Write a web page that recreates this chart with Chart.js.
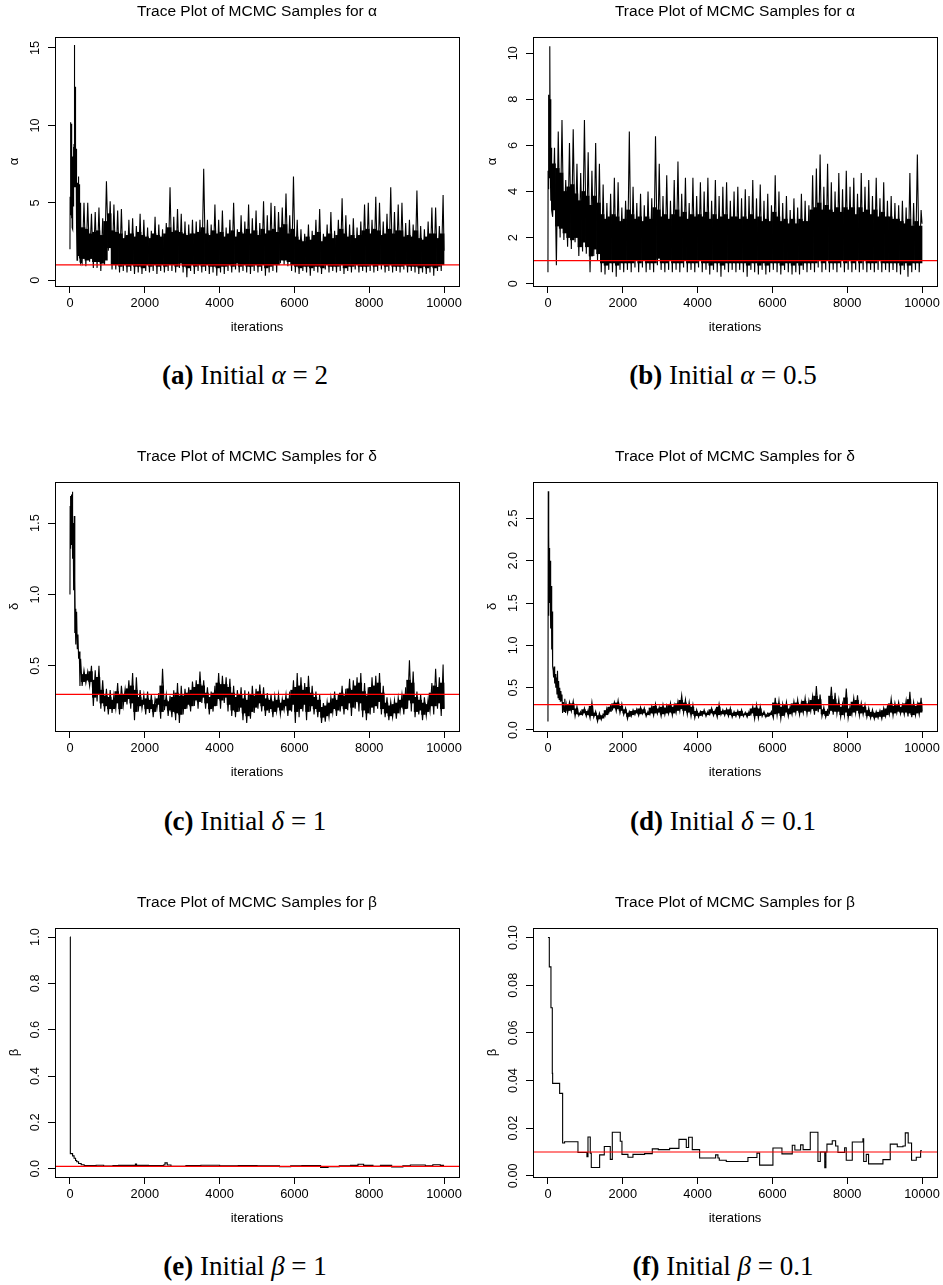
<!DOCTYPE html>
<html>
<head>
<meta charset="utf-8">
<script src="https://cdn.jsdelivr.net/npm/chart.js@4/dist/chart.umd.min.js"></script>
<style>
html,body{margin:0;padding:0;background:#fff;overflow:hidden;}
#fig{position:relative;width:943px;height:1285px;overflow:hidden;background:#fff;}
canvas{position:absolute;display:block;}
.cap{position:absolute;font-family:"Liberation Serif","Times New Roman",serif;font-size:27px;line-height:27px;color:#000;white-space:nowrap;transform:translateX(-50%);}
.cap b{font-weight:bold;}
.cap i{font-style:italic;}
</style>
</head>
<body>
<div id="fig">
  <canvas id="cA" width="465" height="336" style="left:0px;top:0px"></canvas>
  <canvas id="cB" width="465" height="336" style="left:478px;top:0px"></canvas>
  <canvas id="cC" width="465" height="336" style="left:0px;top:445px"></canvas>
  <canvas id="cD" width="465" height="336" style="left:478px;top:445px"></canvas>
  <canvas id="cE" width="465" height="336" style="left:0px;top:891px"></canvas>
  <canvas id="cF" width="465" height="336" style="left:478px;top:891px"></canvas>
  <div class="cap" style="left:245px;top:362px"><b>(a)</b> Initial <i>α</i> = 2</div>
  <div class="cap" style="left:723px;top:362px"><b>(b)</b> Initial <i>α</i> = 0.5</div>
  <div class="cap" style="left:245px;top:808px"><b>(c)</b> Initial <i>δ</i> = 1</div>
  <div class="cap" style="left:723px;top:808px"><b>(d)</b> Initial <i>δ</i> = 0.1</div>
  <div class="cap" style="left:245px;top:1253px"><b>(e)</b> Initial <i>β</i> = 1</div>
  <div class="cap" style="left:723px;top:1253px"><b>(f)</b> Initial <i>β</i> = 0.1</div>
</div>
<script>
// ---------- shared axis data ----------
const X_MIN = -400, X_MAX = 10400;
const xTicks = [0, 2000, 4000, 6000, 8000, 10000];
const xTickLabels = ['0', '2000', '4000', '6000', '8000', '10000'];
const BIN = 100; // iterations per bin (extremes lo/hi, dense body bodyLo/bodyHi)

// ---------- (a) alpha, initial 2 ----------
const aBurnIter = [0,4,9,14,18,23,27,32,36,41,45,50,54,59,63,68,72,77,81,86,90,95,99,104,108,113,117,122,126,131,135,140,144,149,153,158,162,167,171,176,180,185,189,194,198,203,207,212,216,221,225,230,234,239,243,248,252,257,261,266,270,275,279,284,288,293,297];
const aBurnVal  = [2.0,5.4,9.8,4.2,8.8,5.0,10.2,6.0,9.2,4.0,10.1,5.5,8.3,3.4,7.9,3.3,7.6,4.5,8.0,4.8,8.6,5.0,7.0,5.5,8.8,6.0,14.2,7.5,15.2,8.0,12.0,6.5,12.5,7.0,11.0,6.0,8.4,5.0,8.5,4.0,6.0,3.5,1.3,5.0,1.5,6.3,2.2,5.8,1.6,6.0,2.5,5.5,1.8,6.7,2.0,6.2,1.9,5.0,1.4,4.6,1.2,4.3,1.5,4.8,1.1,5.0,1.3];
const aBinStart = 300;
const aLo = [1.1,0.9,1.2,0.8,0.8,0.6,1.0,1.9,0.7,0.7, 0.5,0.6,0.5,0.6,0.4,0.5,0.4,0.6,0.5,0.6, 0.4,0.6,0.5,0.6,0.6,0.5,0.8,0.5,0.2,0.6, 0.4,0.6,0.5,0.6,0.4,0.5,0.3,0.5,0.4,0.6, 0.5,0.7,0.5,0.6,0.5,0.4,0.6,0.5,0.6,0.3, 0.5,0.6,0.5,1.1,1.0,0.9,0.6,0.5,0.4,0.6, 0.5,0.3,0.6,0.5,0.4,0.7,0.5,0.6,0.5,0.6, 0.4,0.6,0.5,0.7,0.5,0.6,0.5,0.6,0.5,0.6, 0.7,0.5,0.6,0.5,0.6,0.5,0.7,0.5,0.6,0.5, 0.4,0.5,0.4,0.5,0.3,0.6,0.6];
const aHi = [5.0,5.0,4.3,4.4,4.7,4.0,6.4,5.1,4.9,4.5, 4.6,3.2,3.9,4.0,3.5,4.3,3.9,3.4,3.2,4.1, 3.6,3.3,3.7,6.0,4.1,4.6,4.3,3.8,3.6,3.9, 3.8,3.9,7.2,3.9,3.6,4.9,3.9,4.5,3.4,3.9, 5.0,3.3,4.2,3.8,4.9,4.0,4.5,3.7,5.1,4.2, 5.0,4.8,4.4,4.7,5.6,4.2,6.7,3.9,3.3,3.0, 3.6,3.2,3.9,4.6,3.0,3.6,4.4,3.2,3.9,5.3, 4.2,3.6,4.0,3.4,3.8,4.9,5.0,3.9,5.4,5.0, 3.8,4.3,6.0,4.4,4.9,5.0,3.7,3.9,3.6,5.8, 3.5,3.3,3.8,4.7,4.7,3.5,5.5];
const aBodyLo = [1.4,1.3,1.4,1.2,1.2,1.1,1.3,2.1,1.0,1.0, 0.9,1.0,0.9,1.0,0.9,0.9,0.8,1.0,0.9,1.0, 0.9,1.0,0.9,1.0,1.0,0.9,1.1,0.9,0.8,1.0, 0.9,1.0,0.9,1.0,0.9,0.9,0.8,0.9,0.9,1.0, 0.9,1.1,0.9,1.0,0.9,0.9,1.0,0.9,1.0,0.8, 0.9,1.0,1.0,1.3,1.3,1.2,1.0,0.9,0.8,0.9, 0.9,0.8,0.9,0.9,0.8,1.0,0.9,0.9,0.9,1.0, 0.8,0.9,0.9,1.0,0.9,0.9,0.9,1.0,0.9,1.0, 1.0,0.9,1.0,0.9,0.9,0.9,1.0,0.9,0.9,0.9, 0.8,0.9,0.8,0.9,0.8,0.9,1.0];
const aBodyHi = [3.4,3.3,3.0,3.1,3.2,2.9,3.8,4.3,3.2,3.1, 3.0,2.7,2.9,3.0,2.8,3.1,2.9,2.8,2.7,3.0, 2.9,2.8,3.0,3.4,3.1,3.2,3.1,3.0,2.9,3.0, 3.0,3.1,3.4,3.0,2.9,3.2,3.0,3.1,2.8,3.0, 3.2,2.8,3.1,3.0,3.3,3.0,3.2,2.9,3.3,3.0, 3.2,3.3,3.1,3.4,3.6,3.0,3.3,2.8,2.6,2.5, 2.8,2.6,2.9,3.1,2.5,2.8,3.0,2.7,2.9,3.3, 3.0,2.8,2.9,2.7,2.9,3.2,3.3,3.0,3.3,3.2, 2.9,3.0,3.3,3.0,3.2,3.2,2.8,2.9,2.8,3.2, 2.7,2.6,2.8,3.0,3.0,2.7,3.0];
const aTail = [10000, 1.9];
const aYTicks = [0, 5, 10, 15];
const aYLabels = ['0', '5', '10', '15'];
const aTrue = 1;

// ---------- (b) alpha, initial 0.5 ----------
const bBurnIter = [0,3,9,18,27,36,45,53,62,71,80,89,98];
const bBurnVal  = [0.5,4.9,4.1,5.0,8.2,4.6,7.8,10.3,5.0,8.0,3.6,5.9,3.2];
const bBinStart = 100;
const bLo = [2.9,0.8,2.0,1.9,1.6,1.5,1.8,1.2,1.4,1.3, 0.5,1.2,1.0,0.5,0.4,0.6,0.5,0.3,0.6,0.5, 0.6,0.5,0.7,0.5,0.7,0.5,0.6,0.5,0.8,0.6, 0.5,0.6,0.5,0.6,0.5,0.7,0.5,0.6,0.5,0.7, 0.5,0.6,0.4,0.6,0.5,0.3,0.6,0.5,0.6,0.5, 0.6,0.5,0.3,0.6,0.5,0.4,0.6,0.4,0.5,0.6, 0.5,0.4,0.6,0.5,0.4,0.5,0.4,0.6,0.5,0.6, 0.5,0.7,0.5,0.6,0.5,0.6,0.5,0.7,0.5,0.6, 0.5,0.6,0.5,0.6,0.5,0.6,0.5,0.6,0.5,0.6, 0.5,0.6,0.5,0.4,0.6,0.3,0.5,0.6,0.5];
const bHi = [5.9,6.6,7.1,4.5,6.1,6.7,5.2,4.8,7.1,5.7, 4.9,6.1,5.2,4.3,3.5,3.9,4.6,4.4,3.3,3.6, 6.6,4.2,3.5,3.9,3.4,4.0,3.7,6.4,5.2,3.8, 4.7,3.6,4.5,5.3,3.9,4.6,3.5,4.6,3.8,4.4, 4.0,4.6,3.6,4.5,3.8,4.2,4.4,3.6,4.0,4.2, 3.7,4.1,3.8,4.5,3.7,4.3,3.6,3.9,3.4,4.7, 4.0,3.5,3.8,3.2,3.7,3.3,3.9,3.6,3.4,4.7, 5.0,5.6,4.2,5.2,4.4,4.0,4.8,4.1,4.9,4.2, 4.6,3.9,4.8,4.2,4.5,3.8,4.6,3.7,4.4,3.6, 3.8,3.5,3.4,3.6,3.3,4.8,3.5,5.6,3.2];
const bBodyLo = [3.2,2.5,2.4,2.2,2.0,1.9,2.0,1.6,1.8,1.6, 1.2,1.5,1.3,0.9,0.8,0.9,0.9,0.8,0.9,0.9, 0.9,0.9,1.0,0.9,1.0,0.9,0.9,0.9,1.1,0.9, 0.9,1.0,0.9,0.9,0.9,1.0,0.9,0.9,0.9,1.0, 0.9,0.9,0.8,0.9,0.9,0.8,0.9,0.9,0.9,0.9, 0.9,0.9,0.8,0.9,0.9,0.8,0.9,0.8,0.9,0.9, 0.9,0.8,0.9,0.9,0.8,0.9,0.8,0.9,0.9,0.9, 0.9,1.0,0.9,1.0,0.9,0.9,0.9,1.0,0.9,1.0, 0.9,1.0,0.9,1.0,0.9,0.9,0.9,1.0,0.9,0.9, 0.9,0.9,0.9,0.8,0.9,0.8,0.9,0.9,0.9];
const bBodyHi = [5.2,5.0,4.8,4.0,4.2,4.3,3.9,3.6,4.0,3.8, 3.4,3.8,3.5,3.0,2.8,2.9,3.0,2.9,2.7,2.8, 3.2,3.0,2.8,2.9,2.7,2.9,2.8,3.3,3.2,2.9, 3.0,2.8,3.0,3.2,2.9,3.1,2.8,3.0,2.9,3.0, 2.9,3.1,2.8,3.0,2.8,2.9,3.0,2.8,2.9,2.9, 2.8,2.9,2.8,3.0,2.8,2.9,2.7,2.8,2.7,3.1, 2.9,2.7,2.8,2.6,2.8,2.6,2.8,2.7,2.7,3.2, 3.3,3.5,3.2,3.4,3.2,3.1,3.3,3.1,3.3,3.2, 3.3,3.0,3.3,3.1,3.2,3.0,3.2,2.9,3.1,2.9, 2.9,2.8,2.8,2.7,2.6,2.8,2.5,2.7,2.5];
const bTail = [10000, 2.6];
const bYTicks = [0, 2, 4, 6, 8, 10];
const bYLabels = ['0', '2', '4', '6', '8', '10'];
const bTrue = 1;

// ---------- (c) delta, initial 1 ----------
const cBurnIter = [0,5,10,15,20,25,30,35,40,45,50,55,60,65,70,75,80,85,89,98,107,116,125,134,142,151,160,178,196,214,231,249,267,285];
const cBurnVal  = [1.0,1.62,1.32,1.66,1.38,1.69,1.35,1.6,1.42,1.7,1.36,1.65,1.4,1.72,1.3,1.58,1.25,1.5,1.03,1.5,1.15,1.55,0.73,1.1,0.8,0.9,0.65,0.88,0.62,0.72,0.55,0.6,0.36,0.55];
const cBinStart = 300;
const cLo = [.36,.38,.36,.22,.25,.20,.18,.16,.17,.20, .16,.22,.23,.20,.12,.18,.20,.16,.17,.14, .20,.13,.19,.15,.14,.12,.10,.16,.20,.18, .22,.20,.24,.20,.16,.18,.22,.20,.24,.18, .15,.14,.18,.12,.10,.13,.17,.20,.18,.15, .17,.14,.18,.16,.19,.15,.18,.10,.14,.18, .12,.18,.16,.14,.10,.11,.14,.17,.15,.18, .16,.19,.15,.20,.18,.14,.12,.16,.17,.20, .16,.14,.12,.14,.13,.18,.16,.20,.18,.14, .16,.12,.15,.18,.16,.20,.15];
const cHi = [.47,.46,.50,.47,.50,.40,.34,.33,.30,.38, .36,.34,.40,.45,.42,.33,.30,.32,.30,.27, .31,.48,.30,.29,.33,.38,.36,.34,.35,.39, .40,.46,.40,.35,.32,.36,.45,.43,.42,.41, .36,.33,.35,.33,.32,.36,.34,.37,.35,.31, .30,.29,.30,.27,.30,.32,.40,.45,.42,.38, .43,.36,.32,.30,.24,.25,.28,.32,.30,.36, .34,.41,.40,.42,.45,.38,.35,.42,.43,.45, .36,.28,.25,.26,.28,.30,.35,.54,.46,.32, .30,.28,.27,.38,.48,.42,.51];
const cBodyLo = [.39,.40,.39,.28,.30,.24,.22,.20,.20,.24, .20,.25,.27,.24,.18,.22,.23,.20,.20,.18, .23,.18,.22,.19,.18,.17,.16,.20,.23,.22, .26,.25,.28,.24,.20,.22,.27,.26,.28,.23, .19,.18,.21,.17,.15,.18,.21,.24,.22,.19, .20,.18,.21,.19,.22,.19,.23,.18,.20,.23, .18,.22,.20,.18,.14,.15,.17,.20,.19,.22, .20,.24,.21,.25,.24,.19,.17,.21,.22,.25, .20,.17,.15,.17,.17,.21,.20,.26,.24,.18, .19,.16,.18,.22,.22,.24,.20];
const cBodyHi = [.44,.44,.46,.40,.42,.33,.29,.28,.26,.32, .30,.30,.34,.36,.33,.28,.26,.27,.26,.23, .27,.36,.26,.25,.28,.31,.29,.29,.31,.33, .35,.37,.36,.31,.28,.31,.38,.37,.37,.35, .31,.28,.30,.27,.26,.30,.29,.32,.30,.27, .26,.25,.26,.24,.26,.27,.33,.35,.36,.33, .35,.31,.28,.26,.21,.22,.24,.27,.26,.31, .29,.34,.33,.36,.38,.32,.29,.35,.36,.38, .31,.24,.22,.23,.24,.26,.30,.40,.38,.28, .26,.24,.23,.31,.36,.35,.38];
const cTail = [10000, 0.2];
const cYTicks = [0.5, 1.0, 1.5];
const cYLabels = ['0.5', '1.0', '1.5'];
const cTrue = 0.3;

// ---------- (d) delta, initial 0.1 ----------
const dBurnIter = [0,8,16,24,32,40,48,56,64,72,80,90,100,110,120,130,140,150,165,180,195,210,225,240,255,270,285,300,315,330,345,360,375,390,410,430,450,470,490];
const dBurnVal  = [0.1,2.82,1.35,2.3,1.6,2.15,1.5,2.0,1.55,1.7,1.2,1.7,0.95,1.4,0.9,0.75,0.7,0.62,0.75,0.55,0.66,0.5,0.62,0.42,0.7,0.38,0.58,0.36,0.5,0.34,0.46,0.35,0.42,0.2,0.33,0.22,0.37,0.2,0.3];
const dBinStart = 500;
const dLo = [.20,.22,.16,.17,.18,.16,.14,.15,.10,.12, .16,.20,.24,.22,.20,.18,.13,.16,.18,.17, .19,.16,.18,.17,.19,.16,.18,.19,.17,.20, .22,.20,.18,.16,.14,.15,.17,.16,.18,.17, .15,.18,.17,.16,.15,.16,.15,.16,.15,.18, .13,.14,.16,.15,.17,.14,.17,.13,.18,.16, .18,.20,.18,.20,.19,.22,.18,.21,.16,.15, .20,.18,.19,.15,.17,.14,.18,.20,.17,.18, .15,.14,.13,.14,.13,.16,.18,.17,.20,.19, .18,.16,.15,.17,.18];
const dHi = [.33,.34,.28,.22,.26,.24,.33,.22,.20,.19, .26,.29,.33,.35,.31,.26,.22,.24,.25,.27, .26,.22,.28,.31,.27,.30,.29,.32,.30,.34, .41,.36,.33,.30,.24,.22,.24,.22,.26,.24, .31,.24,.25,.26,.22,.23,.24,.21,.22,.28, .30,.28,.22,.20,.22,.38,.35,.31,.33,.28, .34,.36,.33,.38,.35,.40,.52,.42,.27,.24, .51,.44,.36,.31,.49,.28,.38,.41,.32,.30, .26,.24,.22,.23,.26,.28,.37,.32,.33,.30, .35,.45,.33,.31,.38];
const dBodyLo = [.23,.24,.19,.18,.20,.18,.17,.17,.13,.14, .18,.22,.26,.25,.23,.20,.16,.18,.20,.19, .20,.18,.20,.20,.21,.19,.20,.21,.20,.23, .25,.23,.21,.19,.17,.17,.19,.18,.20,.19, .18,.19,.19,.18,.17,.18,.17,.18,.17,.20, .17,.17,.18,.16,.18,.19,.20,.17,.21,.19, .21,.23,.21,.23,.22,.25,.23,.25,.19,.17, .23,.22,.22,.18,.21,.17,.21,.23,.20,.21, .17,.16,.15,.16,.16,.18,.21,.20,.22,.21, .21,.20,.18,.20,.21];
const dBodyHi = [.30,.31,.25,.20,.24,.22,.28,.20,.17,.17, .23,.27,.31,.32,.28,.24,.20,.22,.23,.25, .24,.20,.26,.28,.25,.27,.26,.29,.27,.31, .35,.32,.30,.27,.22,.20,.22,.20,.24,.22, .27,.22,.23,.24,.20,.21,.22,.19,.20,.25, .26,.25,.20,.18,.20,.32,.31,.27,.30,.25, .31,.32,.30,.34,.31,.35,.40,.36,.24,.22, .40,.36,.31,.27,.38,.25,.33,.35,.29,.27, .23,.21,.20,.21,.23,.25,.31,.28,.29,.27, .31,.36,.29,.28,.32];
const dTail = [10000, 0.22];
const dYTicks = [0, 0.5, 1.0, 1.5, 2.0, 2.5];
const dYLabels = ['0.0', '0.5', '1.0', '1.5', '2.0', '2.5'];
const dTrue = 0.3;

// ---------- (e) beta, initial 1 (step changes: iteration, new value) ----------
const eIter = [0,10,70,110,150,180,230,300,380,700,900,1150,1300,1750,1780,2100,2500,2540,2600,2700,3100,3500,4000,4500,5000,5600,5900,6200,6500,6700,6900,7200,7500,7700,7850,8100,8300,8600,8900,9100,9500,9700,9900,10000];
const eVal  = [1.0,0.065,0.055,0.045,0.035,0.03,0.022,0.017,0.013,0.015,0.011,0.013,0.014,0.02,0.014,0.013,0.016,0.025,0.016,0.01,0.013,0.015,0.012,0.013,0.012,0.009,0.012,0.013,0.013,0.005,0.008,0.012,0.014,0.019,0.014,0.01,0.014,0.007,0.012,0.016,0.012,0.017,0.014,0.014];
const eYTicks = [0, 0.2, 0.4, 0.6, 0.8, 1.0];
const eYLabels = ['0.0', '0.2', '0.4', '0.6', '0.8', '1.0'];
const eTrue = 0.01;

// ---------- (f) beta, initial 0.1 (step changes: iteration, new value) ----------
const fIter = [0,36,80,116,125,312,392,445,802,1042,1070,1131,1158,1381,1506,1666,1720,1933,1978,2138,2272,2584,2789,2950,3252,3502,3698,3760,3858,4054,4482,4544,4580,4767,5346,5587,5658,6014,6255,6531,6600,6754,6820,7012,7217,7280,7400,7430,7458,7600,7690,7752,7930,7974,8135,8420,8440,8509,8571,8955,9150,9338,9490,9552,9630,9720,9846,9962,10000];
const fVal  = [0.1,0.0877,0.0705,0.043,0.0388,0.0346,0.0138,0.0143,0.0098,0.008,0.0163,0.0095,0.0035,0.0088,0.0123,0.0069,0.0183,0.0145,0.009,0.0078,0.009,0.0093,0.0113,0.011,0.0115,0.0153,0.0119,0.0162,0.011,0.0075,0.0088,0.0075,0.0065,0.006,0.0077,0.0095,0.0045,0.0117,0.0092,0.0128,0.0108,0.013,0.011,0.0183,0.006,0.01,0.0034,0.01,0.0133,0.0147,0.0125,0.0098,0.0118,0.0065,0.0142,0.0155,0.006,0.009,0.005,0.0068,0.0133,0.0122,0.0125,0.018,0.0138,0.0065,0.0078,0.0105,0.0105];
const fYTicks = [0, 0.02, 0.04, 0.06, 0.08, 0.10];
const fYLabels = ['0.00', '0.02', '0.04', '0.06', '0.08', '0.10'];
const fTrue = 0.01;

// ---------- builders ----------
function buildTrace(burnIter, burnVal, binStart, lo, hi, tail) {
  const pts = burnIter.map((x, i) => ({x: x, y: burnVal[i]}));
  lo.forEach((v, i) => {
    const s = binStart + i * BIN;
    pts.push({x: s + 25, y: v});
    pts.push({x: s + 75, y: hi[i]});
  });
  pts.push({x: tail[0], y: tail[1]});
  return pts;
}
function buildBody(binStart, bodyLo, bodyHi) {
  return bodyLo.map((v, i) => ({x: binStart + i * BIN + BIN / 2, y: [v, bodyHi[i]]}));
}
function buildSteps(iter, val) { return iter.map((x, i) => ({x: x, y: val[i]})); }

const FAMILY = "'Liberation Sans', Arial, Helvetica, sans-serif";
const TICK_SIZE = 12.8;
const measureCtx = document.createElement('canvas').getContext('2d');
measureCtx.font = TICK_SIZE + 'px ' + FAMILY;

const framePlugin = {
  id: 'frame',
  afterDatasetsDraw(chart) {
    const a = chart.chartArea, ctx = chart.ctx;
    ctx.save();
    ctx.strokeStyle = '#000';
    ctx.lineWidth = 1;
    ctx.strokeRect(a.left + 0.5, a.top + 0.5, a.right - a.left, a.bottom - a.top);
    ctx.restore();
  }
};

function makeChart(id, p) {
  const widest = Math.max(...p.yLabels.map(s => measureCtx.measureText(s).width));
  const yPad = Math.max(0, 12.7 - widest / 2);
  const tickGrid = {display: true, drawOnChartArea: false, drawTicks: true, tickLength: 7, color: '#000', lineWidth: 1};
  const datasets = [
    {type: 'line', data: [{x: X_MIN, y: p.truth}, {x: X_MAX, y: p.truth}], borderColor: '#ff0000', borderWidth: 1.2, pointRadius: 0, fill: false},
    {type: 'line', data: p.data, borderColor: '#000', borderWidth: p.lw, pointRadius: 0, fill: false, tension: 0, stepped: p.stepped}
  ];
  if (p.body) {
    datasets.push({type: 'bar', data: p.body, backgroundColor: '#000', borderWidth: 0, barPercentage: 1, categoryPercentage: 1});
  }
  return new Chart(document.getElementById(id), {
    type: 'line',
    data: {datasets: datasets},
    options: {
      responsive: false,
      animation: false,
      events: [],
      layout: {padding: {left: 0, top: 0, right: 6, bottom: 0}},
      plugins: {
        legend: {display: false},
        tooltip: {enabled: false},
        title: {
          display: true, fullSize: false,
          text: 'Trace Plot of MCMC Samples for ' + p.sym,
          color: '#000',
          font: {family: FAMILY, size: 15.5, weight: 'normal', lineHeight: 1.2},
          padding: {top: 2.4, bottom: 16.0}
        }
      },
      scales: {
        x: {
          type: 'linear', min: X_MIN, max: X_MAX, offset: false,
          afterBuildTicks: s => { s.ticks = xTicks.map(v => ({value: v})); },
          afterFit: s => { s.height = 50; s.paddingLeft = 0; s.paddingRight = 0; },
          ticks: {font: {family: FAMILY, size: TICK_SIZE}, color: '#000', padding: 2.8, minRotation: 0, maxRotation: 0, autoSkip: false,
                  callback: (v, i) => xTickLabels[i]},
          grid: Object.assign({offset: false}, tickGrid),
          border: {display: false},
          title: {display: true, text: 'iterations', color: '#000', font: {family: FAMILY, size: 13}, padding: {top: 0, bottom: 1.2}}
        },
        y: {
          type: 'linear', min: p.yMin, max: p.yMax, beginAtZero: false,
          afterBuildTicks: s => { s.ticks = p.yTicks.map(v => ({value: v})); },
          afterFit: s => { s.width = 55; s.paddingTop = 0; s.paddingBottom = 0; },
          ticks: {font: {family: FAMILY, size: TICK_SIZE}, color: '#000', padding: yPad, minRotation: 90, maxRotation: 90,
                  crossAlign: 'center', autoSkip: false, callback: (v, i) => p.yLabels[i]},
          grid: tickGrid,
          border: {display: false},
          title: {display: true, text: p.sym, color: '#000', font: {family: FAMILY, size: 13}, padding: {top: 6.2, bottom: 0}}
        }
      }
    },
    plugins: [framePlugin]
  });
}

makeChart('cA', {sym: 'α', data: buildTrace(aBurnIter, aBurnVal, aBinStart, aLo, aHi, aTail), body: buildBody(aBinStart, aBodyLo, aBodyHi),
  stepped: false, lw: 1.1, yMin: -0.37, yMax: 15.71, yTicks: aYTicks, yLabels: aYLabels, truth: aTrue});
makeChart('cB', {sym: 'α', data: buildTrace(bBurnIter, bBurnVal, bBinStart, bLo, bHi, bTail), body: buildBody(bBinStart, bBodyLo, bBodyHi),
  stepped: false, lw: 1.1, yMin: -0.10, yMax: 10.70, yTicks: bYTicks, yLabels: bYLabels, truth: bTrue});
makeChart('cC', {sym: 'δ', data: buildTrace(cBurnIter, cBurnVal, cBinStart, cLo, cHi, cTail), body: buildBody(cBinStart, cBodyLo, cBodyHi),
  stepped: false, lw: 1.1, yMin: 0.044, yMax: 1.788, yTicks: cYTicks, yLabels: cYLabels, truth: cTrue});
makeChart('cD', {sym: 'δ', data: buildTrace(dBurnIter, dBurnVal, dBinStart, dLo, dHi, dTail), body: buildBody(dBinStart, dBodyLo, dBodyHi),
  stepped: false, lw: 1.1, yMin: -0.012, yMax: 2.93, yTicks: dYTicks, yLabels: dYLabels, truth: dTrue});
makeChart('cE', {sym: 'β', data: buildSteps(eIter, eVal), stepped: 'before', lw: 1.1,
  yMin: -0.036, yMax: 1.039, yTicks: eYTicks, yLabels: eYLabels, truth: eTrue});
makeChart('cF', {sym: 'β', data: buildSteps(fIter, fVal), stepped: 'before', lw: 1.1,
  yMin: -0.0005, yMax: 0.104, yTicks: fYTicks, yLabels: fYLabels, truth: fTrue});
</script>
</body>
</html>
